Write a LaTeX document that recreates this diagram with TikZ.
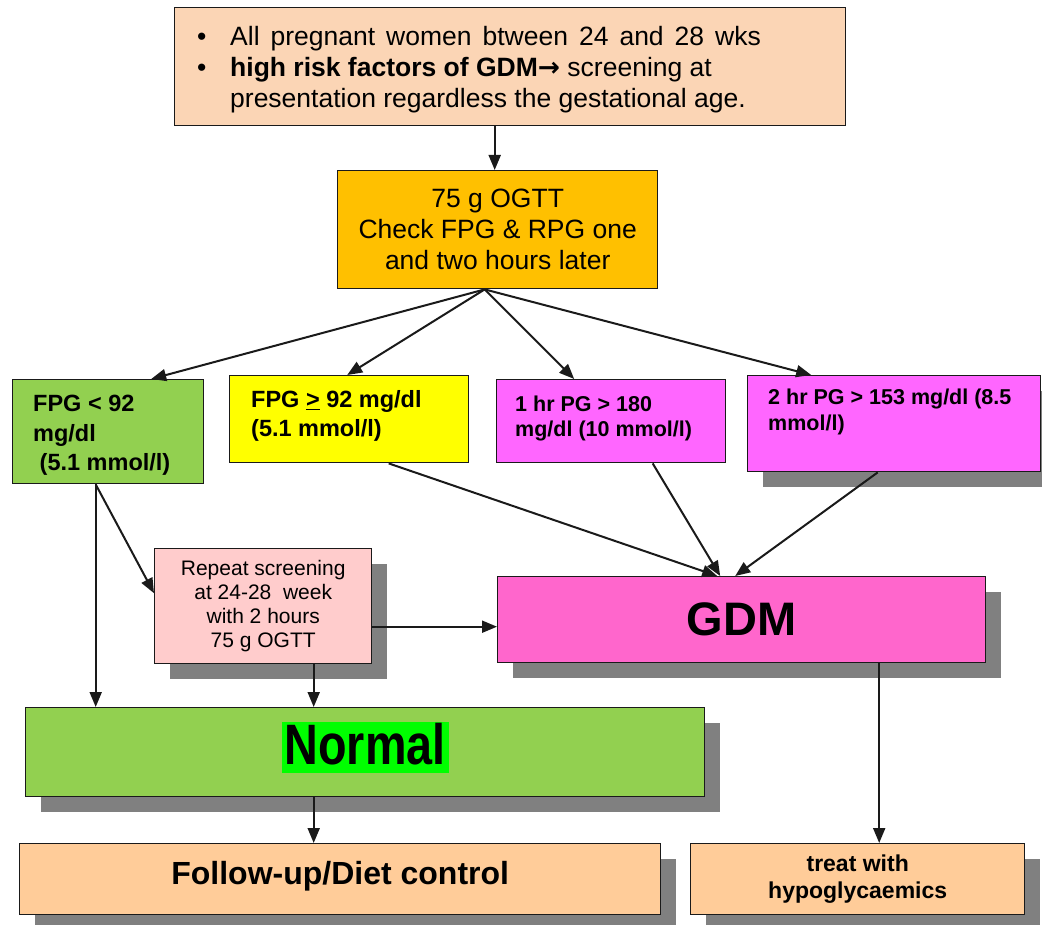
\documentclass[tikz,border=0pt]{standalone}
\usepackage{fontspec}
\setmainfont{Liberation Sans}
\newfontfamily\narrowfont[FakeStretch=0.82]{Liberation Sans}
\newfontfamily\arrowfont{DejaVu Sans}
\usetikzlibrary{arrows.meta,shadows}
\definecolor{toppeach}{HTML}{FBD5B5}
\definecolor{ogttcol}{HTML}{FFC000}
\definecolor{greencol}{HTML}{92D050}
\definecolor{yellowcol}{HTML}{FFFF00}
\definecolor{pinkcol}{HTML}{FF66FF}
\definecolor{repeatcol}{HTML}{FFCCCC}
\definecolor{gdmcol}{HTML}{FF66CC}
\definecolor{hlgreen}{HTML}{00FF00}
\definecolor{bottompeach}{HTML}{FFCC99}
\definecolor{shadowgray}{HTML}{808080}
\definecolor{edge}{HTML}{1A1A1A}
\begin{document}
\begin{tikzpicture}[x=1pt,y=-1pt,
  box/.style={draw=edge, line width=1.4pt, anchor=north west, inner sep=0pt},
  shad/.style={drop shadow={shadow xshift=15pt, shadow yshift=-15pt, fill=shadowgray, opacity=1}},
  lbl/.style={inner sep=0pt, anchor=base west},
  arr/.style={line width=2pt, draw=edge, -{Triangle[length=15pt,width=12pt]}}]

\useasboundingbox (0,0) rectangle (1042,925);

% boxes
\node[box, fill=toppeach, minimum width=671pt, minimum height=118pt] (top) at (174,7) {};
\node[box, fill=ogttcol, minimum width=320pt, minimum height=118pt, align=center,
      font=\fontsize{26.5}{31}\selectfont] (ogtt) at (337,170)
      {75 g OGTT\\Check FPG \& RPG one\\and two hours later};
\node[box, fill=greencol, minimum width=191pt, minimum height=104pt] (green) at (12,379) {};
\node[box, fill=yellowcol, minimum width=239pt, minimum height=87pt] (yellow) at (229,375) {};
\node[box, fill=pinkcol, minimum width=229pt, minimum height=83pt] (pinka) at (496,379) {};
\node[box, fill=pinkcol, shad, minimum width=293pt, minimum height=96pt] (pinkb) at (747,375) {};
\node[box, fill=repeatcol, shad, minimum width=217pt, minimum height=115pt, align=center,
      font=\fontsize{21}{24}\selectfont] (repeat) at (154,548)
      {Repeat screening\\at 24-28\ \ week\\with 2 hours\\75 g OGTT};
\node[box, fill=gdmcol, shad, minimum width=488pt, minimum height=86pt,
      font=\fontsize{47}{56}\selectfont\bfseries] (gdm) at (497,576) {GDM};
\node[box, fill=greencol, shad, minimum width=679pt, minimum height=89pt,
      font=\narrowfont\fontsize{57}{66}\selectfont\bfseries] (normal) at (25,707)
      {{\setlength{\fboxsep}{0pt}\colorbox{hlgreen}{\rule[-8pt]{0pt}{51pt}\hspace{3pt}Normal\hspace{3pt}}}\rule[-18pt]{0pt}{1pt}};
\node[box, fill=bottompeach, shad, minimum width=641pt, minimum height=71pt,
      font=\fontsize{32}{38}\selectfont\bfseries] (follow) at (19,843) {\rule[-12pt]{0pt}{1pt}Follow-up/Diet control};
\node[box, fill=bottompeach, shad, minimum width=334pt, minimum height=71pt, align=center,
      font=\fontsize{23}{27}\selectfont\bfseries] (treat) at (690,843) {treat with\\hypoglycaemics};

% top-aligned texts
\node[lbl] (toptext) at ([shift={(23pt,-38.5pt)}]top.north west)
  {\fontsize{26.5}{31}\selectfont\begin{tabular}[t]{@{}p{33pt}@{}l@{}}
   \textbullet & {\spaceskip=11pt plus 2pt All pregnant women btween 24 and 28 wks}\\
   \textbullet & \textbf{high risk factors of GDM{\arrowfont→}} screening at\\
   & presentation regardless the gestational age.
   \end{tabular}};
\node[lbl] (greentext) at ([shift={(21pt,-32.5pt)}]green.north west)
  {\fontsize{23.5}{29.5}\selectfont\bfseries\begin{tabular}[t]{@{}l@{}}
   FPG < 92\\ mg/dl\\ \ (5.1 mmol/l)\end{tabular}};
\node[lbl] (yellowtext) at ([shift={(22pt,-32.5pt)}]yellow.north west)
  {\fontsize{23.5}{29}\selectfont\bfseries\begin{tabular}[t]{@{}l@{}}
   FPG \underline{>} 92 mg/dl\\ (5.1 mmol/l)\end{tabular}};
\node[lbl] (pinkatext) at ([shift={(19pt,-32pt)}]pinka.north west)
  {\fontsize{21.5}{25}\selectfont\bfseries\begin{tabular}[t]{@{}l@{}}
   1 hr PG > 180\\ mg/dl (10 mmol/l)\end{tabular}};
\node[lbl] (pinkbtext) at ([shift={(21pt,-30pt)}]pinkb.north west)
  {\fontsize{21.5}{25}\selectfont\bfseries\begin{tabular}[t]{@{}l@{}}
   2 hr PG > 153 mg/dl (8.5\\ mmol/l)\end{tabular}};

% connectors
\draw[arr] ([xshift=-15.5pt]top.south) -- ([xshift=-15.5pt]top.south |- ogtt.north);
\coordinate (og) at ([xshift=-13pt]ogtt.south);
\draw[arr] (og) -- ([xshift=43pt]green.north);
\draw[arr] (og) -- ([xshift=-2pt]yellow.north);
\draw[arr] (og) -- ([xshift=-37pt]pinka.north);
\draw[arr] (og) -- ([xshift=-83pt]pinkb.north);

\coordinate (gs) at ([xshift=-12.5pt]green.south);
\draw[arr] (gs) -- (gs |- normal.north);
\draw[arr] (gs) -- ([yshift=13pt]repeat.west);
\draw[arr] ([xshift=50.5pt]repeat.south) -- ([xshift=50.5pt]repeat.south |- normal.north);
\draw[arr] ([yshift=-20.5pt]repeat.east) -- ([yshift=-20.5pt]repeat.east -| gdm.west);

\draw[arr] ([xshift=39.5pt]yellow.south) -- ([xshift=-24.5pt]gdm.north);
\draw[arr] ([xshift=41.5pt]pinka.south) -- ([xshift=-21.5pt]gdm.north);
\draw[arr] ([xshift=-16.5pt]pinkb.south) -- ([xshift=-6.5pt]gdm.north);

\draw[arr] ([xshift=137.5pt]gdm.south) -- ([xshift=137.5pt]gdm.south |- treat.north);
\draw[arr] ([xshift=-51.5pt]normal.south) -- ([xshift=-51.5pt]normal.south |- follow.north);
\end{tikzpicture}
\end{document}
